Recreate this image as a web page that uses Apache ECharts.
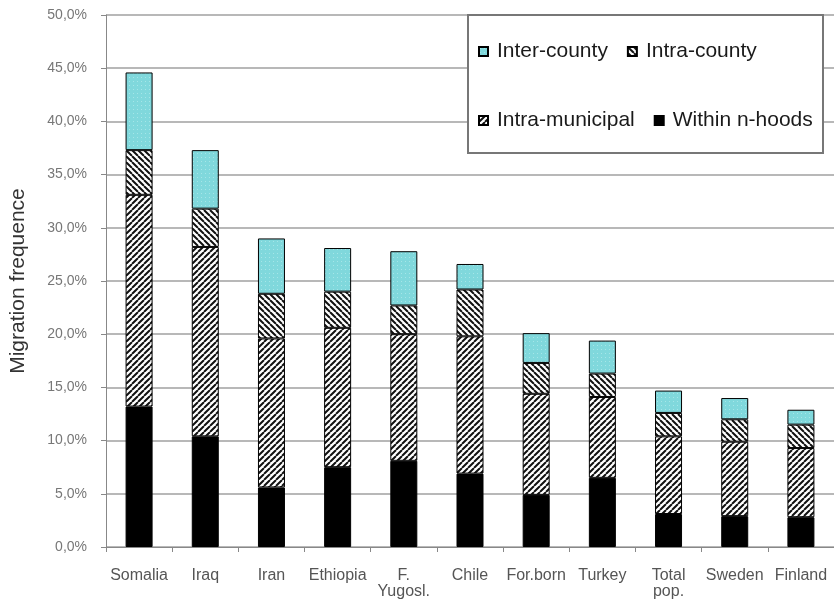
<!DOCTYPE html>
<html>
<head>
<meta charset="utf-8">
<script src="https://cdn.jsdelivr.net/npm/echarts@6/dist/echarts.min.js"></script>
<style>
  html, body { margin: 0; padding: 0; background: #fff; }
  #chart { width: 834px; height: 603px; }
</style>
</head>
<body>
<div id="chart"></div>
<script>
// Migration frequence by origin group, split by type of move (percent of group)
const categories = ['Somalia', 'Iraq', 'Iran', 'Ethiopia', 'F.\nYugosl.', 'Chile', 'For.born', 'Turkey', 'Total\npop.', 'Sweden', 'Finland'];
const withinHoods    = [13.2, 10.4, 5.6, 7.5, 8.1, 6.9, 4.9, 6.5, 3.1, 2.9, 2.8];
const intraMunicipal = [19.9, 17.8, 14.0, 13.1, 11.9, 12.9, 9.5, 7.6, 7.3, 7.0, 6.5];
const intraCounty    = [4.2, 3.6, 4.2, 3.4, 2.7, 4.4, 2.9, 2.2, 2.2, 2.1, 2.2];
const interCounty    = [7.3, 5.5, 5.2, 4.1, 5.1, 2.4, 2.8, 3.1, 2.1, 2.0, 1.4];
const yTicks = [0, 5, 10, 15, 20, 25, 30, 35, 40, 45, 50];

// Diagonal hatch fill: '/' rises to the right, '\' falls to the right
function hatch(dir) {
  const s = 6;
  const c = document.createElement('canvas');
  c.width = s; c.height = s;
  const g = c.getContext('2d');
  g.fillStyle = '#fff';
  g.fillRect(0, 0, s, s);
  g.strokeStyle = '#111';
  g.lineWidth = 2;
  g.beginPath();
  for (const k of [-s, 0, s]) {
    if (dir === '/') { g.moveTo(k, s); g.lineTo(k + s, 0); }
    else { g.moveTo(k, 0); g.lineTo(k + s, s); }
  }
  g.stroke();
  return { image: c, repeat: 'repeat' };
}

// Light cyan with a faint dotted texture
function dotted() {
  const c = document.createElement('canvas');
  c.width = 4; c.height = 4;
  const g = c.getContext('2d');
  g.fillStyle = '#80d8dc';
  g.fillRect(0, 0, 4, 4);
  g.fillStyle = '#a6e6e8';
  g.fillRect(1, 1, 1, 1);
  return { image: c, repeat: 'repeat' };
}

const chart = echarts.init(document.getElementById('chart'), null, { renderer: 'canvas' });
const FONT = 'Liberation Sans, Arial, sans-serif';
const border = { borderColor: '#000', borderWidth: 1 };

function bar(name, data, color) {
  return {
    name, type: 'bar', stack: 'total', barWidth: 27, data,
    itemStyle: Object.assign({ color }, border),
    emphasis: { disabled: true }
  };
}

const legendCommon = {
  left: 478, itemWidth: 9, itemHeight: 9, itemGap: 19, padding: 0,
  icon: 'rect', selectedMode: false,
  textStyle: { fontSize: 21, color: '#1a1a1a', fontFamily: FONT, width: 140, padding: [0, 0, 0, 4] }
};

chart.setOption({
  animation: false,
  backgroundColor: '#fff',
  grid: { left: 106, right: 0, top: 15, bottom: 56, containLabel: false, outerBoundsMode: 'none' },
  graphic: [{
    type: 'rect', z: 3,
    shape: { x: 468, y: 15, width: 355, height: 138 },
    style: { fill: '#fff', stroke: '#777', lineWidth: 2 }
  }],
  legend: [
    Object.assign({ top: 41, data: ['Inter-county', 'Intra-county'] }, legendCommon),
    Object.assign({ top: 110, data: ['Intra-municipal', 'Within n-hoods'] }, legendCommon)
  ],
  xAxis: {
    type: 'category',
    data: categories,
    axisLine: { lineStyle: { color: '#888', width: 1 } },
    axisTick: { show: true, length: 5, interval: 0, lineStyle: { color: '#888' } },
    axisLabel: { interval: 0, margin: 21, fontSize: 16, color: '#555', fontFamily: FONT, lineHeight: 16 }
  },
  yAxis: {
    type: 'value',
    min: yTicks[0], max: yTicks[yTicks.length - 1], interval: 5,
    name: 'Migration frequence',
    nameLocation: 'middle', nameGap: 77,
    nameTextStyle: { fontSize: 21, color: '#333', fontFamily: FONT },
    axisLine: { show: true, lineStyle: { color: '#888', width: 1 } },
    axisTick: { show: true, length: 5, lineStyle: { color: '#888' } },
    axisLabel: {
      margin: 19, fontSize: 14, color: '#777', fontFamily: FONT,
      formatter: v => v.toFixed(1).replace('.', ',') + '%'
    },
    splitLine: { show: true, lineStyle: { color: '#a0a0a0', width: 1.5 } }
  },
  series: [
    bar('Within n-hoods', withinHoods, '#000'),
    bar('Intra-municipal', intraMunicipal, hatch('/')),
    bar('Intra-county', intraCounty, hatch('\\')),
    bar('Inter-county', interCounty, dotted())
  ]
});
</script>
</body>
</html>
